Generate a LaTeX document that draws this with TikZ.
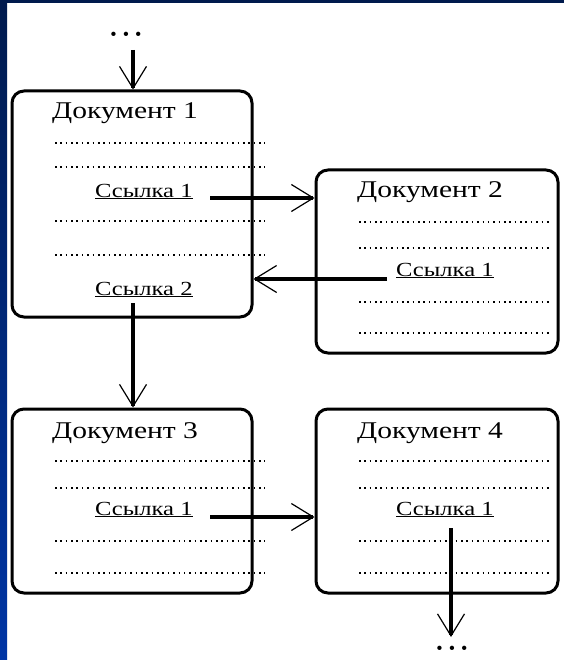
\documentclass[tikz,border=0pt]{standalone}
\usepackage{fontspec}
\usetikzlibrary{arrows.meta}
\newfontfamily\docfont[FakeStretch=1.23]{Liberation Serif}
\definecolor{navytop}{HTML}{001A4D}
\definecolor{navybot}{HTML}{0035A5}
\tikzset{
  docbox/.style={draw, line width=3pt, rounded corners=12pt, inner sep=0pt},
  doctitle/.style={anchor=base west, inner sep=0pt, font=\docfont\fontsize{24}{28}\selectfont},
  doclink/.style={anchor=base west, inner sep=0pt, font=\docfont\fontsize{20}{24}\selectfont},
  dotrow/.style={line width=1.6pt, dash pattern=on 1.6pt off 3.77pt},
  link/.style={line width=3.3pt, -{Straight Barb[length=22pt,width=27pt,line width=1.2pt]}},
  ellip/.style={inner sep=0pt, font=\bfseries\fontsize{30}{30}\selectfont}
}
\begin{document}
\begin{tikzpicture}[x=1pt,y=-1pt]
\useasboundingbox (0,0) rectangle (564,660);
\fill[white] (0,0) rectangle (564,660);
\shade[top color=navytop, bottom color=navybot] (0,0) rectangle (7,660);
\fill[navytop] (0,0) rectangle (564,3);

% boxes
\node[docbox, minimum width=240pt, minimum height=226pt] (d1) at (132,204) {};
\node[docbox, minimum width=242pt, minimum height=183pt] (d2) at (437,261.5) {};
\node[docbox, minimum width=240pt, minimum height=184pt] (d3) at (132,501) {};
\node[docbox, minimum width=242pt, minimum height=184pt] (d4) at (437,501) {};

% titles
\node[doctitle] (t1) at (52,119) {Документ 1};
\node[doctitle] (t2) at (357,197) {Документ 2};
\node[doctitle] (t3) at (52,438) {Документ 3};
\node[doctitle] (t4) at (357,438) {Документ 4};

% links
\node[doclink] (l11) at (95,197) {\underline{Ссылка 1}};
\node[doclink] (l12) at (95,295) {\underline{Ссылка 2}};
\node[doclink] (l21) at (396,276) {\underline{Ссылка 1}};
\node[doclink] (l31) at (95,515) {\underline{Ссылка 1}};
\node[doclink] (l41) at (396,515) {\underline{Ссылка 1}};

% dotted rows
\foreach \y in {143,167,221,255} \draw[dotrow] (55,\y) -- (265,\y);
\foreach \y in {222,248,302,333} \draw[dotrow] (359,\y) -- (552,\y);
\foreach \y in {461,488,541,573} \draw[dotrow] (55,\y) -- (265,\y);
\foreach \y in {461,488,541,573} \draw[dotrow] (359,\y) -- (552,\y);

% ellipses
\node[ellip] (top) at (126,34) {.\hspace{3pt}.\hspace{3pt}.};
\node[ellip] (bot) at (452,648) {.\hspace{3pt}.\hspace{3pt}.};

% connectors
\coordinate (c0) at (133,50);
\draw[link] (c0) -- (c0 |- d1.north);
\coordinate (c1) at (210,198);
\draw[link] (c1) -- (c1 -| d2.west);
\coordinate (c2) at (387,279);
\draw[link] (c2) -- (c2 -| d1.east);
\coordinate (c3) at (133,303);
\draw[link] (c3) -- (c3 |- d3.north);
\coordinate (c4) at (210,517);
\draw[link] (c4) -- (c4 -| d4.west);
\coordinate (c5) at (451,528);
\coordinate (c6) at (451,637);
\draw[link] (c5) -- (c6);
\end{tikzpicture}
\end{document}
